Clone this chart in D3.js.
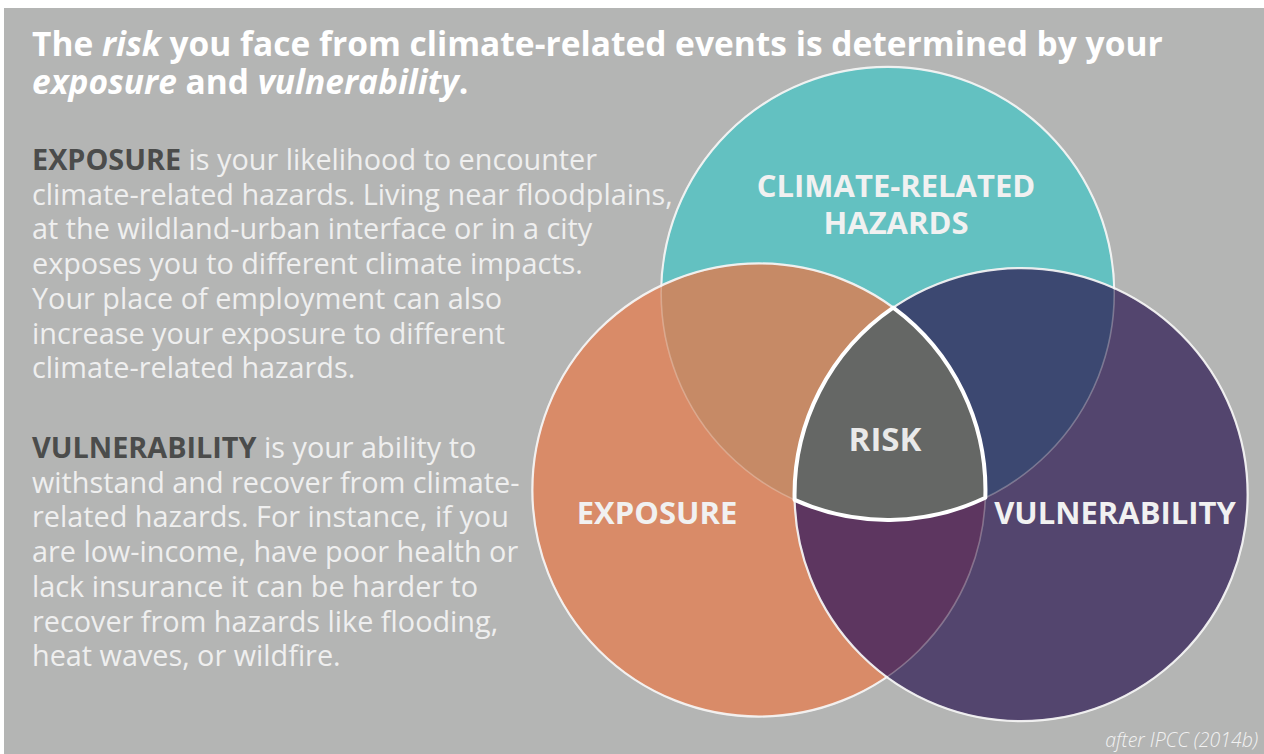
<!DOCTYPE html>
<html>
<head>
<meta charset="utf-8">
<script src="https://cdn.jsdelivr.net/npm/d3@7"></script>
<style>
  html, body { margin: 0; padding: 0; background: #ffffff; }
  svg { display: block; font-family: "Open Sans", sans-serif; }
</style>
</head>
<body>
<div id="plot"></div>
<script>
// Data
const setNames = ["CLIMATE-RELATED HAZARDS", "EXPOSURE", "VULNERABILITY"];
const setLabelLines = [["CLIMATE-RELATED", "HAZARDS"], ["EXPOSURE"], ["VULNERABILITY"]];
const centerLabel = "RISK";
const titleLines = [
  [["The ", false], ["risk", true], [" you face from climate-related events is determined by your", false]],
  [["exposure", true], [" and ", false], ["vulnerability", true], [".", false]]
];
const exposureLines = [
  "is your likelihood to encounter",
  "climate-related hazards. Living near floodplains,",
  "at the wildland-urban interface or in a city",
  "exposes you to different climate impacts.",
  "Your place of employment can also",
  "increase your exposure to different",
  "climate-related hazards."
];
const vulnerabilityLines = [
  "is your ability to",
  "withstand and recover from climate-",
  "related hazards. For instance, if you",
  "are low-income, have poor health or",
  "lack insurance it can be harder to",
  "recover from hazards like flooding,",
  "heat waves, or wildfire."
];
const sourceNote = "after IPCC (2014b)";

// Layout (venn centres in unit space)
const width = 1264, height = 754;
const vennUnit = [[-0.01, -0.855], [-0.57, 0.0], [0.57, 0.02]];
const vennR = 0.985;
const setColors = ["#63c1c1", "#d98b68", "#53456e"];
const pairColors = { "0-1": "#c68a66", "0-2": "#3c4871", "1-2": "#5d3660" };
const riskColor = "#656765";

const svg = d3.select('#plot')
  .append('svg')
  .attr('width', width)
  .attr('height', height);

svg.append('rect')
  .attr('x', 4).attr('y', 8)
  .attr('width', width - 4).attr('height', height - 8)
  .attr('fill', '#b4b5b4');

// Scales
const x = d3.scaleLinear().domain([0, 1]).range([890, 1120]);
const y = d3.scaleLinear().domain([0, 1]).range([490, 720]);
const k = x(1) - x(0);

const circles = vennUnit.map((c, i) => ({ i, cx: x(c[0]), cy: y(c[1]), r: vennR * k }));

const defs = svg.append('defs');
circles.forEach(c => {
  defs.append('clipPath').attr('id', 'clip' + c.i)
    .append('circle').attr('cx', c.cx).attr('cy', c.cy).attr('r', c.r);
});
// masks for strokes: hide parts covered by later circles
circles.forEach(c => {
  const m = defs.append('mask').attr('id', 'mask' + c.i);
  m.append('rect').attr('width', width).attr('height', height).attr('fill', 'white');
  circles.filter(o => o.i > c.i).forEach(o => {
    m.append('circle').attr('cx', o.cx).attr('cy', o.cy).attr('r', o.r - 1).attr('fill', 'black');
  });
});

const venn = svg.append('g');

// set fills
venn.selectAll('circle.set')
  .data(circles)
  .join('circle')
  .attr('class', 'set')
  .attr('cx', d => d.cx).attr('cy', d => d.cy).attr('r', d => d.r)
  .attr('fill', d => setColors[d.i]);

// pair intersections
Object.entries(pairColors).forEach(([key, col]) => {
  const [a, b] = key.split('-').map(Number);
  venn.append('g').attr('clip-path', `url(#clip${a})`)
    .append('circle')
    .attr('cx', circles[b].cx).attr('cy', circles[b].cy).attr('r', circles[b].r)
    .attr('fill', col);
});

// strokes
venn.selectAll('circle.faint')
  .data(circles)
  .join('circle')
  .attr('class', 'faint')
  .attr('cx', d => d.cx).attr('cy', d => d.cy).attr('r', d => d.r)
  .attr('fill', 'none')
  .attr('stroke', '#f4eee8')
  .attr('stroke-opacity', 0.3)
  .attr('stroke-width', 1.6);

venn.selectAll('circle.edge')
  .data(circles)
  .join('circle')
  .attr('class', 'edge')
  .attr('cx', d => d.cx).attr('cy', d => d.cy).attr('r', d => d.r)
  .attr('fill', 'none')
  .attr('stroke', '#f6f6f6')
  .attr('stroke-opacity', 0.9)
  .attr('stroke-width', 2.2)
  .attr('mask', d => `url(#mask${d.i})`);

// triple intersection
function intersect(a, b) {
  const dx = b.cx - a.cx, dy = b.cy - a.cy;
  const d = Math.hypot(dx, dy);
  const l = (a.r * a.r - b.r * b.r + d * d) / (2 * d);
  const h = Math.sqrt(a.r * a.r - l * l);
  const mx = a.cx + l * dx / d, my = a.cy + l * dy / d;
  return [[mx + h * dy / d, my - h * dx / d], [mx - h * dy / d, my + h * dx / d]];
}
function inside(p, c) { return Math.hypot(p[0] - c.cx, p[1] - c.cy) < c.r; }
function pick(a, b, c) { return intersect(a, b).find(p => inside(p, c)); }

const [cT, cO, cV] = circles;
const pTop = pick(cO, cV, cT);
const pBL = pick(cT, cV, cO);
const pBR = pick(cT, cO, cV);
const riskPath = `M${pTop}A${cV.r},${cV.r} 0 0 0 ${pBL}` +
  `A${cT.r},${cT.r} 0 0 0 ${pBR}` +
  `A${cO.r},${cO.r} 0 0 0 ${pTop}Z`;

venn.append('path')
  .attr('d', riskPath)
  .attr('fill', riskColor)
  .attr('stroke', '#ffffff')
  .attr('stroke-width', 4)
  .attr('stroke-linejoin', 'round');

// set labels
const labelPos = [[896, 197], [657, 524], [1115, 524]];
setLabelLines.forEach((lines, i) => {
  lines.forEach((line, j) => {
    svg.append('text')
      .attr('x', labelPos[i][0]).attr('y', labelPos[i][1] + j * 37)
      .attr('text-anchor', 'middle')
      .style('font-size', '31px').style('font-weight', 700)
      .attr('fill', '#f1f1f1')
      .text(line);
  });
});

svg.append('text')
  .attr('x', 885).attr('y', 451)
  .attr('text-anchor', 'middle')
  .style('font-size', '33px').style('font-weight', 700)
  .attr('fill', '#e9e9e9')
  .text(centerLabel);

// Title
titleLines.forEach((line, li) => {
  const t = svg.append('text')
    .attr('x', 32).attr('y', 56 + li * 38)
    .style('font-size', '33.5px').style('font-weight', 700)
    .attr('fill', '#ffffff');
  line.forEach(([s, it]) => {
    t.append('tspan').text(s).style('font-style', it ? 'italic' : 'normal');
  });
});

// Paragraphs
function paragraph(keyword, lines, y0, size) {
  lines.forEach((line, i) => {
    const t = svg.append('text')
      .attr('x', 32).attr('y', y0 + i * 34.7)
      .style('font-size', size + 'px')
      .attr('fill', '#efefef');
    if (i === 0) {
      t.append('tspan').style('font-weight', 700).attr('fill', '#4b4c4b').text(keyword + ' ');
    }
    t.append('tspan').text(line);
  });
}
paragraph('EXPOSURE', exposureLines, 170, 28.8);
paragraph('VULNERABILITY', vulnerabilityLines, 458, 28.8);

// Source note
svg.append('text')
  .attr('x', 1258).attr('y', 747)
  .attr('text-anchor', 'end')
  .style('font-size', '19.5px').style('font-style', 'italic').style('font-weight', 300)
  .attr('fill', '#f2f2f2')
  .text(sourceNote);
</script>
</body>
</html>
